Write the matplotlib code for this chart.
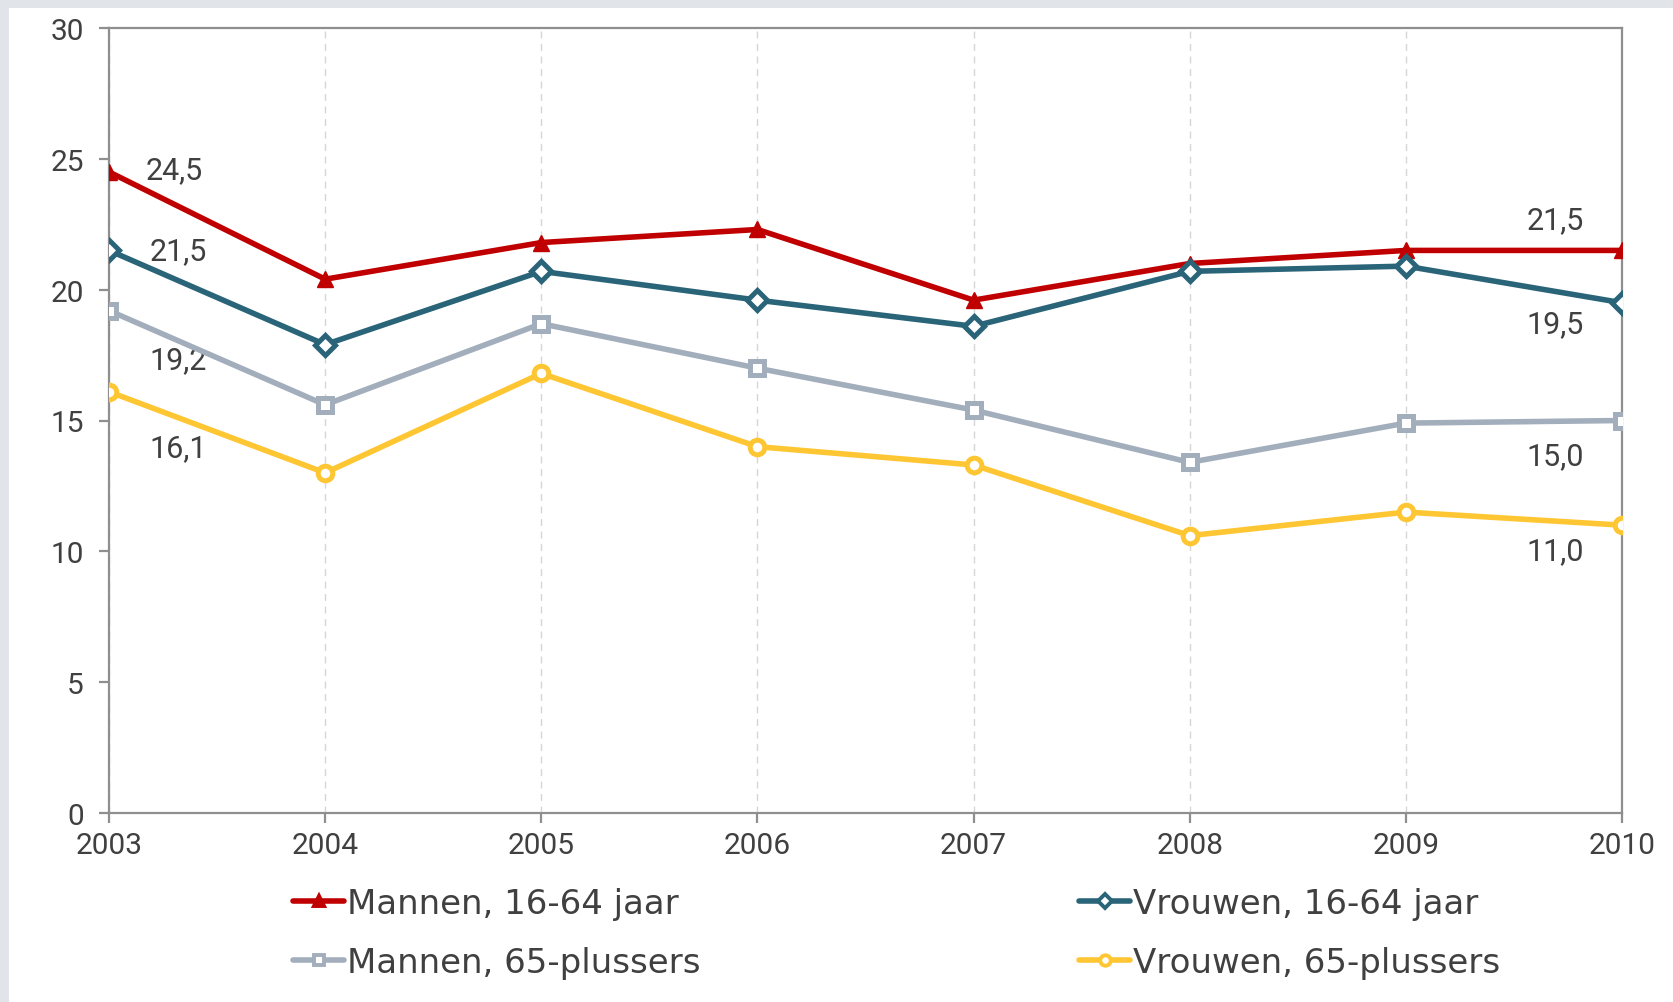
import matplotlib.pyplot as plt
from matplotlib.patches import Rectangle

years = [2003, 2004, 2005, 2006, 2007, 2008, 2009, 2010]
mannen_1664 = [24.5, 20.4, 21.8, 22.3, 19.6, 21.0, 21.5, 21.5]
vrouwen_1664 = [21.5, 17.9, 20.7, 19.6, 18.6, 20.7, 20.9, 19.5]
mannen_65 = [19.2, 15.6, 18.7, 17.0, 15.4, 13.4, 14.9, 15.0]
vrouwen_65 = [16.1, 13.0, 16.8, 14.0, 13.3, 10.6, 11.5, 11.0]

labels = ['Mannen, 16-64 jaar', 'Vrouwen, 16-64 jaar',
          'Mannen, 65-plussers', 'Vrouwen, 65-plussers']

W, H = 1674, 1003
fig = plt.figure(figsize=(W / 100, H / 100), dpi=100)
fig.patch.set_facecolor('#e1e5ea')
fig.patches.append(Rectangle((9 / W, 0), 1, 1 - 9 / H, transform=fig.transFigure,
                             facecolor='white', edgecolor='none', zorder=-10))

ax = fig.add_axes([109 / W, (H - 814) / H, (1622 - 109) / W, (814 - 29) / H])
ax.set_facecolor('white')

txt = '#404040'
spine_c = '#8f8f8f'

red, teal, grey, yellow = '#c00000', '#2a6478', '#a3aebc', '#ffc633'

l1, = ax.plot(years, mannen_1664, color=red, lw=4, marker='^', ms=12,
              mfc=red, mec=red, mew=1, zorder=5, solid_capstyle='round')
l2, = ax.plot(years, vrouwen_1664, color=teal, lw=4, marker='D', ms=10,
              mfc='white', mec=teal, mew=3.6, zorder=5, solid_capstyle='round')
l3, = ax.plot(years, mannen_65, color=grey, lw=4, marker='s', ms=10,
              mfc='white', mec=grey, mew=3.6, zorder=4, solid_capstyle='round')
l4, = ax.plot(years, vrouwen_65, color=yellow, lw=4, marker='o', ms=10.5,
              mfc='white', mec=yellow, mew=3.6, zorder=4, solid_capstyle='round')

ax.set_xlim(2003, 2010)
ax.set_ylim(0, 30)
ax.set_xticks(years)
ax.set_yticks(range(0, 31, 5))
ax.xaxis.grid(True, color='#d6d6d6', lw=1.0, ls=(0, (5, 4)))
ax.set_axisbelow(True)

for s in ax.spines.values():
    s.set_color(spine_c)
    s.set_linewidth(1.6)

ax.tick_params(axis='both', colors=spine_c, width=1.6, length=7, labelcolor=txt)
ax.tick_params(axis='y', pad=11)
ax.tick_params(axis='x', pad=6)
for lab in ax.get_xticklabels() + ax.get_yticklabels():
    lab.set_fontfamily('Roboto')
    lab.set_fontsize(21.5)

def fmt(v):
    return f'{v:.1f}'.replace('.', ',')

lab_font = dict(family='Roboto', fontsize=22, color=txt, ha='center', va='center')
# left labels (offsets in points)
left_off = [(47, 2), (50, 0), (50, -35), (50, -40)]
right_off = [(-48, 22), (-48, -15), (-48, -25), (-48, -18)]
series = [mannen_1664, vrouwen_1664, mannen_65, vrouwen_65]
for vals, lo, ro in zip(series, left_off, right_off):
    ax.annotate(fmt(vals[0]), (years[0], vals[0]), xytext=lo,
                textcoords='offset points', **lab_font)
    ax.annotate(fmt(vals[-1]), (years[-1], vals[-1]), xytext=ro,
                textcoords='offset points', **lab_font)

leg_kw = dict(loc='center left', frameon=False, borderpad=0, borderaxespad=0,
              handlelength=1.5, handletextpad=0.1, labelspacing=0.75,
              prop=dict(family='DejaVu Sans', size=24.5), labelcolor=txt)
leg1 = fig.legend([l1, l3], [labels[0], labels[2]],
                  bbox_to_anchor=(293 / W, 1 - 934 / H), **leg_kw)
leg2 = fig.legend([l2, l4], [labels[1], labels[3]],
                  bbox_to_anchor=(1079 / W, 1 - 934 / H), **leg_kw)
for leg in (leg1, leg2):
    for h in leg.legend_handles:
        h.set_markersize(7.5)
        h.set_markeredgewidth(2.8)

fig.savefig('out.png', dpi=100, facecolor=fig.get_facecolor())
